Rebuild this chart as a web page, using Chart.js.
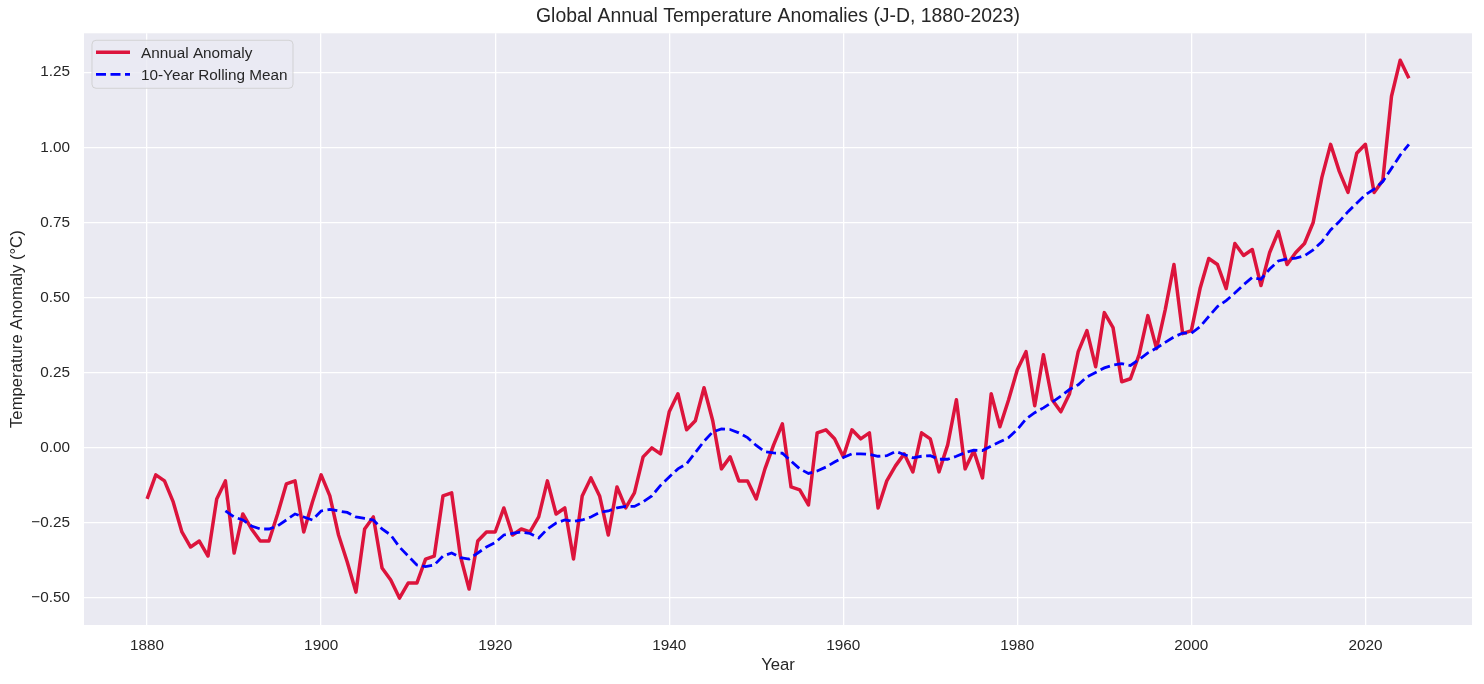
<!DOCTYPE html>
<html>
<head>
<meta charset="utf-8">
<title>Global Annual Temperature Anomalies</title>
<script src="https://cdn.jsdelivr.net/npm/chart.js@4.4.1/dist/chart.umd.min.js"></script>
<style>
  html, body { margin: 0; padding: 0; background: #ffffff; }
  #wrap { width: 1484px; height: 684px; }
</style>
</head>
<body>
<div id="wrap"><canvas id="grafico" width="1484" height="684"></canvas></div>
<script>
// Anos (eixo x)
const years = [
  1880,1881,1882,1883,1884,1885,1886,1887,1888,1889,
  1890,1891,1892,1893,1894,1895,1896,1897,1898,1899,
  1900,1901,1902,1903,1904,1905,1906,1907,1908,1909,
  1910,1911,1912,1913,1914,1915,1916,1917,1918,1919,
  1920,1921,1922,1923,1924,1925,1926,1927,1928,1929,
  1930,1931,1932,1933,1934,1935,1936,1937,1938,1939,
  1940,1941,1942,1943,1944,1945,1946,1947,1948,1949,
  1950,1951,1952,1953,1954,1955,1956,1957,1958,1959,
  1960,1961,1962,1963,1964,1965,1966,1967,1968,1969,
  1970,1971,1972,1973,1974,1975,1976,1977,1978,1979,
  1980,1981,1982,1983,1984,1985,1986,1987,1988,1989,
  1990,1991,1992,1993,1994,1995,1996,1997,1998,1999,
  2000,2001,2002,2003,2004,2005,2006,2007,2008,2009,
  2010,2011,2012,2013,2014,2015,2016,2017,2018,2019,
  2020,2021,2022,2023,2024,2025
];

// Anomalia anual (°C)
const annualAnomaly = [
  -0.17,-0.09,-0.11,-0.18,-0.28,-0.33,-0.31,-0.36,-0.17,-0.11,
  -0.35,-0.22,-0.27,-0.31,-0.31,-0.22,-0.12,-0.11,-0.28,-0.18,
  -0.09,-0.16,-0.29,-0.38,-0.48,-0.27,-0.23,-0.40,-0.44,-0.50,
  -0.45,-0.45,-0.37,-0.36,-0.16,-0.15,-0.36,-0.47,-0.31,-0.28,
  -0.28,-0.20,-0.29,-0.27,-0.28,-0.23,-0.11,-0.22,-0.20,-0.37,
  -0.16,-0.10,-0.16,-0.29,-0.13,-0.20,-0.15,-0.03,0.00,-0.02,
  0.12,0.18,0.06,0.09,0.20,0.09,-0.07,-0.03,-0.11,-0.11,
  -0.17,-0.07,0.01,0.08,-0.13,-0.14,-0.19,0.05,0.06,0.03,
  -0.03,0.06,0.03,0.05,-0.20,-0.11,-0.06,-0.02,-0.08,0.05,
  0.03,-0.08,0.01,0.16,-0.07,-0.01,-0.10,0.18,0.07,0.16,
  0.26,0.32,0.14,0.31,0.16,0.12,0.18,0.32,0.39,0.27,
  0.45,0.40,0.22,0.23,0.31,0.44,0.33,0.46,0.61,0.38,
  0.39,0.53,0.63,0.61,0.53,0.68,0.64,0.66,0.54,0.65,
  0.72,0.61,0.65,0.68,0.75,0.90,1.01,0.92,0.85,0.98,
  1.01,0.85,0.89,1.17,1.29,1.23
];

// Média móvel de 10 anos (começa em 1889)
const rollingMean = [
  null,null,null,null,null,null,null,null,null,-0.21,
  -0.23,-0.24,-0.26,-0.27,-0.27,-0.26,-0.24,-0.22,-0.23,-0.24,
  -0.21,-0.205,-0.21,-0.215,-0.23,-0.235,-0.24,-0.27,-0.29,-0.33,
  -0.36,-0.39,-0.395,-0.39,-0.36,-0.35,-0.365,-0.37,-0.35,-0.33,
  -0.315,-0.29,-0.285,-0.28,-0.285,-0.30,-0.27,-0.25,-0.24,-0.245,
  -0.24,-0.23,-0.215,-0.21,-0.20,-0.195,-0.195,-0.18,-0.16,-0.125,
  -0.097,-0.07,-0.053,-0.016,0.022,0.053,0.063,0.061,0.05,0.034,
  0.008,-0.013,-0.017,-0.018,-0.044,-0.07,-0.085,-0.077,-0.064,-0.047,
  -0.032,-0.02,-0.02,-0.022,-0.028,-0.026,-0.012,-0.022,-0.033,-0.028,
  -0.026,-0.038,-0.038,-0.028,-0.016,-0.008,-0.009,0.006,0.02,0.034,
  0.061,0.096,0.117,0.133,0.152,0.172,0.194,0.21,0.236,0.251,
  0.266,0.275,0.28,0.274,0.294,0.316,0.332,0.351,0.369,0.382,
  0.381,0.403,0.437,0.47,0.49,0.515,0.543,0.567,0.561,0.595,
  0.622,0.629,0.631,0.639,0.659,0.686,0.725,0.753,0.786,0.814,
  0.842,0.861,0.886,0.93,0.974,1.01
];

// Marcas dos eixos
const xTicks = [1880, 1900, 1920, 1940, 1960, 1980, 2000, 2020];
const yTicks = [-0.50, -0.25, 0.00, 0.25, 0.50, 0.75, 1.00, 1.25];

const FONTE = "'Liberation Sans', Arial, sans-serif";
const TEXTO = '#262626';

// fundo cinza-azulado da área do gráfico (estilo seaborn)
const fundoPlugin = {
  id: 'fundo',
  beforeDraw(chart) {
    const a = chart.chartArea;
    const ctx = chart.ctx;
    ctx.save();
    ctx.fillStyle = '#EAEAF2';
    ctx.fillRect(a.left, a.top, a.right - a.left, a.bottom - a.top);
    ctx.restore();
  }
};

// legenda dentro do gráfico, canto superior esquerdo
const legendaPlugin = {
  id: 'legendaInterna',
  afterDatasetsDraw(chart) {
    const ctx = chart.ctx;
    const x = chart.chartArea.left + 8, y = chart.chartArea.top + 7;
    const w = 201, h = 48;
    ctx.save();
    ctx.beginPath();
    ctx.roundRect(x, y, w, h, 4);
    ctx.fillStyle = 'rgba(234,234,242,0.8)';
    ctx.fill();
    ctx.strokeStyle = 'rgba(204,204,204,0.8)';
    ctx.lineWidth = 1;
    ctx.stroke();
    ctx.font = '15.3px ' + FONTE;
    ctx.textBaseline = 'middle';
    ctx.fillStyle = TEXTO;
    chart.data.datasets.forEach(function(ds, i) {
      const ly = y + 12 + i * 22;
      ctx.beginPath();
      ctx.setLineDash(ds.borderDash || []);
      ctx.strokeStyle = ds.borderColor;
      ctx.lineWidth = ds.borderWidth;
      ctx.moveTo(x + 4, ly);
      ctx.lineTo(x + 38, ly);
      ctx.stroke();
      ctx.setLineDash([]);
      ctx.fillText(ds.label, x + 49, ly + 1);
    });
    ctx.restore();
  }
};

function criarGrafico() {
  const ctx = document.getElementById('grafico').getContext('2d');
  new Chart(ctx, {
    type: 'line',
    data: {
      datasets: [
        {
          label: 'Annual Anomaly',
          data: years.map((ano, i) => ({ x: ano, y: annualAnomaly[i] })),
          borderColor: '#DC143C',
          borderWidth: 3.5,
          borderJoinStyle: 'round',
          pointRadius: 0,
          tension: 0,
          order: 2
        },
        {
          label: '10-Year Rolling Mean',
          data: years.map((ano, i) => ({ x: ano, y: rollingMean[i] })),
          borderColor: '#0000FF',
          borderWidth: 2.8,
          borderDash: [10, 4.5],
          pointRadius: 0,
          tension: 0,
          order: 1
        }
      ]
    },
    options: {
      responsive: false,
      animation: false,
      devicePixelRatio: 1,
      layout: { padding: { left: 0, right: 12, top: 0, bottom: 0 } },
      plugins: {
        legend: { display: false },
        tooltip: { enabled: false },
        title: {
          display: true,
          text: 'Global Annual Temperature Anomalies (J-D, 1880-2023)',
          fullSize: false,
          color: TEXTO,
          font: { family: FONTE, size: 19.4, weight: 'normal' },
          padding: { top: 5, bottom: 5 }
        }
      },
      scales: {
        x: {
          type: 'linear',
          min: 1872.75,
          max: 2032.25,
          afterBuildTicks: function(scale) {
            scale.ticks = xTicks.map(v => ({ value: v }));
          },
          afterFit: function(scale) { scale.height = 59; },
          grid: { color: '#FFFFFF', lineWidth: 1.3, drawTicks: false },
          border: { display: false },
          ticks: {
            padding: 12,
            color: TEXTO,
            font: { family: FONTE, size: 15.3 },
            maxRotation: 0,
            callback: v => String(v)
          },
          title: {
            display: true,
            text: 'Year',
            color: TEXTO,
            font: { family: FONTE, size: 16.7 },
            padding: { top: 0, bottom: 9 }
          }
        },
        y: {
          min: -0.5895,
          max: 1.3795,
          afterBuildTicks: function(scale) {
            scale.ticks = yTicks.map(v => ({ value: v }));
          },
          afterFit: function(scale) { scale.width = 84; },
          grid: { color: '#FFFFFF', lineWidth: 1.3, drawTicks: false },
          border: { display: false },
          ticks: {
            padding: 14,
            color: TEXTO,
            font: { family: FONTE, size: 15.3 },
            callback: v => (v < 0 ? '\u2212' : '') + Math.abs(v).toFixed(2)
          },
          title: {
            display: true,
            text: 'Temperature Anomaly (°C)',
            color: TEXTO,
            font: { family: FONTE, size: 16.7 },
            padding: { top: 7, bottom: 0 }
          }
        }
      }
    },
    plugins: [fundoPlugin, legendaPlugin]
  });
}

document.addEventListener('DOMContentLoaded', criarGrafico);
</script>
</body>
</html>
